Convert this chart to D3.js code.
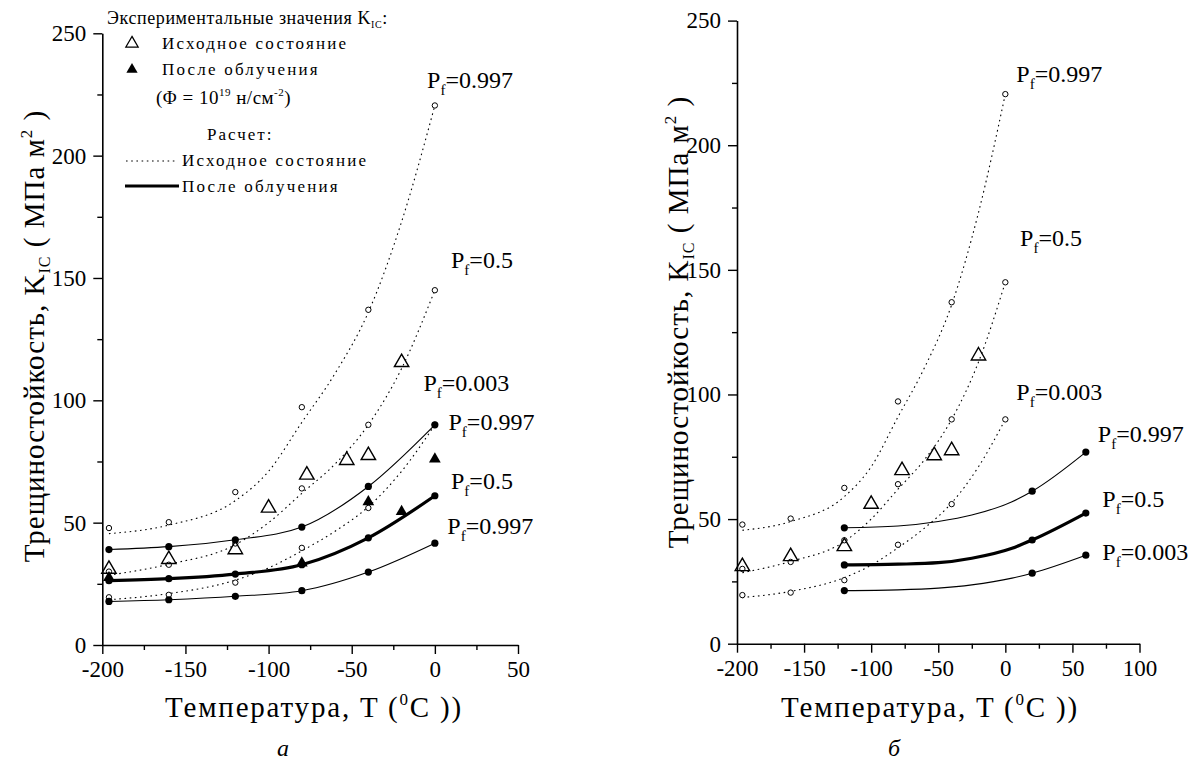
<!DOCTYPE html>
<html><head><meta charset="utf-8">
<script src="https://cdn.jsdelivr.net/npm/d3@7"></script>
<style>
html,body{margin:0;padding:0;background:#fff;}
svg{display:block;}
svg text{font-family:"Liberation Serif","Tinos","Times New Roman","DejaVu Serif",serif;}
</style></head>
<body>
<svg id="chart" width="1189" height="765"></svg>
<script>
// ---------- data ----------
const tempsCalc = [-196, -160, -120, -80, -40, 0];          // calculated points, panel a
const initP997 = [47.8, 50.2, 62.5, 97.2, 137, 220.5];      // unirradiated, Pf=0.997 (open circles)
const initP05  = [30, 32.8, 41.5, 64, 90, 145];             // unirradiated, Pf=0.5
const initP003 = [19.5, 20.5, 25.5, 39.7, 56, 90];          // unirradiated, Pf=0.003

const tempsCurve = [-196, -160, -120, -100, -80, -60, -40, -20, 0]; // fitted dotted curves
const initCurveP997 = [45.5, 49, 59, 71, 91, 111, 136, 173, 220.5];
const initCurveP05  = [28.5, 33, 41, 50, 62, 74, 90, 113, 145];
const initCurveP003 = [18.5, 21, 26.5, 31.5, 38.5, 46.5, 56.5, 71, 90];

const irrP997 = [39, 40.2, 43, 48.2, 64.8, 90];             // irradiated, panel a
const irrP05  = [26.3, 27.1, 29, 32.8, 43.8, 61];
const irrP003 = [17.8, 18.5, 19.9, 22.2, 29.8, 41.6];

const expInitT = [-196, -160, -120, -100, -77, -53, -40, -20]; // experiment, initial state
const expInitK = [31, 35, 39, 56, 69.5, 75.5, 77.5, 115.5];
const expIrrT  = [-196, -80, -40, -20, 0];                  // experiment, after irradiation
const expIrrK  = [27.5, 33.5, 58.5, 54.5, 76];

const tempsB = [-120, 20, 60];                               // panel б irradiated points
const irrBP997 = [46.5, 61.2, 76.9];
const irrBP05  = [31.6, 41.6, 52.4];
const irrBP003 = [21.3, 28.3, 35.5];
const tempsBCurve = [-120, -80, -50, -25, 5, 20, 60];
const irrBCurveP997 = [46.5, 47.2, 49, 51.6, 57, 61.2, 76.9];
const irrBCurveP05  = [31.6, 31.9, 32.5, 34.3, 38.3, 41.6, 52.4];
const irrBCurveP003 = [21.3, 21.6, 22.3, 23.6, 26.3, 28.3, 35.5];

const labelsA = ["0.997", "0.5", "0.003", "0.997", "0.5", "0.997"];
const labelsB = ["0.997", "0.5", "0.003", "0.997", "0.5", "0.003"];
const xTicksA = [-200, -150, -100, -50, 0, 50];
const xTicksB = [-200, -150, -100, -50, 0, 50, 100];
const yTicks = [0, 50, 100, 150, 200, 250];

// ---------- layout ----------
const labelPosA = [[-4.7, 227.7], [9.7, 154], [-6.9, 104], [8.2, 87.7], [9.7, 63.7], [7.5, 45.5]];
const labelPosB = [[8.2, 225.5], [11, 159.4], [8.2, 97.6], [68.9, 80.9], [72.3, 54.9], [72.3, 33.6]];

const svg = d3.select("#chart");

function zip(xs, ys) { return xs.map((x, i) => [x, ys[i]]); }

function panel(cfg) {
  const x = d3.scaleLinear().domain(cfg.xDomain).range(cfg.xRange);
  const y = d3.scaleLinear().domain([0, 250]).range(cfg.yRange);
  const g = svg.append("g");

  const minorX = d3.range(cfg.xDomain[0], cfg.xDomain[1] + 1, 25).filter(v => v % 50 !== 0);
  const minorY = d3.range(0, 251, 25).filter(v => v % 50 !== 0);
  g.append("g").attr("transform", `translate(0,${cfg.yRange[0]})`)
    .call(d3.axisBottom(x).tickValues(minorX).tickSize(5).tickSizeOuter(0).tickFormat(""))
    .call(a => a.select(".domain").remove());
  g.append("g").attr("transform", `translate(${cfg.xRange[0]},0)`)
    .call(d3.axisLeft(y).tickValues(minorY).tickSize(5).tickSizeOuter(0).tickFormat(""))
    .call(a => a.select(".domain").remove());
  const ax = g.append("g").attr("transform", `translate(0,${cfg.yRange[0]})`)
    .call(d3.axisBottom(x).tickValues(cfg.xTicks).tickSize(9).tickSizeOuter(0).tickPadding(7).tickFormat(d3.format("d")));
  const ay = g.append("g").attr("transform", `translate(${cfg.xRange[0]},0)`)
    .call(d3.axisLeft(y).tickValues(yTicks).tickSize(9).tickSizeOuter(0).tickPadding(7).tickFormat(d3.format("d")));
  [ax, ay].forEach(a => {
    a.attr("font-family", null).attr("font-size", null);
    a.selectAll("text").attr("font-size", 23).attr("fill", "#000");
    a.select(".domain").attr("stroke", "#000").attr("stroke-width", 1.6);
  });
  ax.selectAll("text").text(d => d < 0 ? "-" + (-d) : d);
  g.selectAll(".tick line").attr("stroke", "#000").attr("stroke-width", 1.4);

  const line = d3.line().x(d => x(d[0])).y(d => y(d[1])).curve(d3.curveMonotoneX);

  [initCurveP997, initCurveP05, initCurveP003].forEach(vals => {
    g.append("path").attr("d", line(zip(tempsCurve, vals)))
      .attr("fill", "none").attr("stroke", "#000").attr("stroke-width", 1.1)
      .attr("stroke-dasharray", "1.6,3.6");
  });
  [initP997, initP05, initP003].forEach(vals => {
    g.selectAll(null).data(zip(tempsCalc, vals)).enter().append("circle")
      .attr("cx", d => x(d[0])).attr("cy", d => y(d[1])).attr("r", 2.7)
      .attr("fill", "#fff").attr("stroke", "#000").attr("stroke-width", 1);
  });

  cfg.irr.forEach((s, i) => {
    g.append("path").attr("d", line(zip(s.curveT, s.curve)))
      .attr("fill", "none").attr("stroke", "#000").attr("stroke-width", i === 1 ? 3.2 : 1.1);
    g.selectAll(null).data(zip(s.t, s.v)).enter().append("circle")
      .attr("cx", d => x(d[0])).attr("cy", d => y(d[1])).attr("r", 3.6).attr("fill", "#000");
  });

  const triOpen = d3.symbol(d3.symbolTriangle, 90);
  const triFill = d3.symbol(d3.symbolTriangle, 60);
  g.selectAll(null).data(zip(expInitT, expInitK)).enter().append("path")
    .attr("d", triOpen).attr("transform", d => `translate(${x(d[0])},${y(d[1])})`)
    .attr("fill", "none").attr("stroke", "#000").attr("stroke-width", 1.4);
  if (cfg.showIrrExp) {
    g.selectAll(null).data(zip(expIrrT, expIrrK)).enter().append("path")
      .attr("d", triFill).attr("transform", d => `translate(${x(d[0])},${y(d[1])})`)
      .attr("fill", "#000");
  }

  cfg.labels.forEach((t, i) => {
    const p = cfg.labelPos[i];
    const tx = g.append("text").attr("x", x(p[0])).attr("y", y(p[1]))
      .attr("font-size", 24).attr("fill", "#000");
    tx.append("tspan").text("P");
    tx.append("tspan").attr("font-size", 15).attr("dy", 7).text("f");
    tx.append("tspan").attr("dy", -7).text("=" + t);
  });

  const xt = g.append("text").attr("x", cfg.xTitleX).attr("y", 717).attr("text-anchor", "middle")
    .attr("font-size", 29).attr("letter-spacing", 1.8).attr("fill", "#000");
  xt.append("tspan").text("Температура,  T  (");
  xt.append("tspan").attr("font-size", 17).attr("dy", -12).text("0");
  xt.append("tspan").attr("dy", 12).text("C ))");

  const yt = g.append("text").attr("transform", `translate(${cfg.yTitleX},${cfg.yTitleY}) rotate(-90)`)
    .attr("text-anchor", "middle").attr("font-size", 29)
    .attr("letter-spacing", 1).attr("fill", "#000");
  yt.append("tspan").text("Трещиностойкость,  K");
  yt.append("tspan").attr("font-size", 16).attr("dy", 6).text("IC");
  yt.append("tspan").attr("dy", -6).text("   ( МПа м");
  yt.append("tspan").attr("font-size", 17).attr("dy", -12).text("2");
  yt.append("tspan").attr("dy", 12).text(" )");

  g.append("text").attr("x", cfg.letterX).attr("y", 756).attr("text-anchor", "middle")
    .attr("font-size", 24).attr("font-style", "italic").text(cfg.letter);

  return {x, y, g};
}

panel({
  xDomain: [-200, 50], xRange: [102.3, 518], yRange: [645, 33.3], xTicks: xTicksA,
  irr: [
    {t: tempsCalc, v: irrP997, curveT: tempsCalc, curve: irrP997},
    {t: tempsCalc, v: irrP05, curveT: tempsCalc, curve: irrP05},
    {t: tempsCalc, v: irrP003, curveT: tempsCalc, curve: irrP003}
  ],
  showIrrExp: true, labels: labelsA, labelPos: labelPosA,
  xTitleX: 314, yTitleX: 44, yTitleY: 336, letter: "а", letterX: 283
});

panel({
  xDomain: [-200, 100], xRange: [737, 1139.5], yRange: [643.7, 20.6], xTicks: xTicksB,
  irr: [
    {t: tempsB, v: irrBP997, curveT: tempsBCurve, curve: irrBCurveP997},
    {t: tempsB, v: irrBP05, curveT: tempsBCurve, curve: irrBCurveP05},
    {t: tempsB, v: irrBP003, curveT: tempsBCurve, curve: irrBCurveP003}
  ],
  showIrrExp: false, labels: labelsB, labelPos: labelPosB,
  xTitleX: 930, yTitleX: 688, yTitleY: 322, letter: "б", letterX: 894
});

// ---------- legend (panel a) ----------
const lg = svg.append("g").attr("fill", "#000");
const t0 = lg.append("text").attr("x", 107).attr("y", 24).attr("font-size", 18).attr("letter-spacing", 0.6);
t0.append("tspan").text("Экспериментальные значения K");
t0.append("tspan").attr("font-size", 10).attr("dy", 4).text("IC");
t0.append("tspan").attr("dy", -4).text(":");

lg.append("path").attr("d", d3.symbol(d3.symbolTriangle, 65)).attr("transform", "translate(132,43.5)")
  .attr("fill", "none").attr("stroke", "#000").attr("stroke-width", 1.3);
lg.append("text").attr("x", 162).attr("y", 49).attr("font-size", 17).attr("letter-spacing", 2.2).text("Исходное состояние");
lg.append("path").attr("d", d3.symbol(d3.symbolTriangle, 55)).attr("transform", "translate(132,69.5)").attr("fill", "#000");
lg.append("text").attr("x", 162).attr("y", 75).attr("font-size", 17).attr("letter-spacing", 2.2).text("После облучения");

const tf = lg.append("text").attr("x", 156).attr("y", 104).attr("font-size", 19).attr("letter-spacing", 0.5);
tf.append("tspan").text("(Φ = 10");
tf.append("tspan").attr("font-size", 11).attr("dy", -8).text("19");
tf.append("tspan").attr("dy", 8).text(" н/см");
tf.append("tspan").attr("font-size", 11).attr("dy", -8).text("-2");
tf.append("tspan").attr("dy", 8).text(")");

lg.append("text").attr("x", 207).attr("y", 140).attr("font-size", 17).attr("letter-spacing", 2).text("Расчет:");
lg.append("line").attr("x1", 126).attr("x2", 175).attr("y1", 161).attr("y2", 161)
  .attr("stroke", "#000").attr("stroke-width", 1.1).attr("stroke-dasharray", "1.6,3.6");
lg.append("text").attr("x", 182).attr("y", 166).attr("font-size", 17).attr("letter-spacing", 2.2).text("Исходное состояние");
lg.append("line").attr("x1", 125).attr("x2", 179).attr("y1", 186).attr("y2", 186)
  .attr("stroke", "#000").attr("stroke-width", 3);
lg.append("text").attr("x", 182).attr("y", 192).attr("font-size", 17).attr("letter-spacing", 2.2).text("После облучения");
</script>
</body></html>
